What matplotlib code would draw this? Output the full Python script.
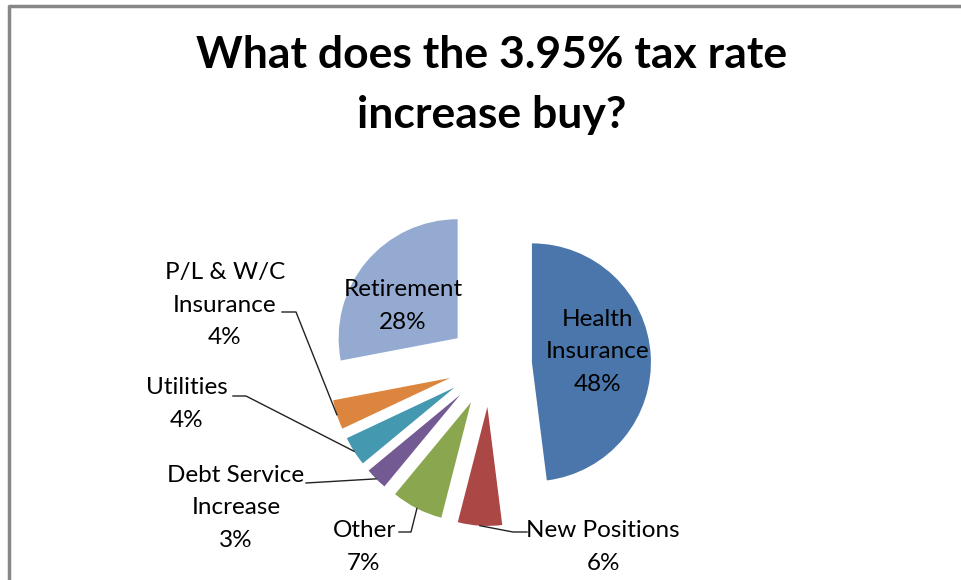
import numpy as np
import matplotlib.pyplot as plt

# slice data, clockwise from 12 o'clock
categories = ["Health\nInsurance", "New Positions", "Other", "Debt Service\nIncrease",
              "Utilities", "P/L & W/C\nInsurance", "Retirement"]
shares = [48, 6, 7, 3, 4, 4, 28]
colors = ["#4a76ab", "#ab4745", "#8aa64f", "#735a93", "#4498b0", "#dc853e", "#94aad1"]

W, H = 961, 580
plt.rcParams['font.family'] = ['Lato', 'DejaVu Sans']

fig = plt.figure(figsize=(W / 100, H / 100), dpi=100)
ax = fig.add_axes([0, 0, 1, 1])

radius = 119
center = (490, H - 365)
# explode is in data units here, every slice pulled out the same distance
wedges, _ = ax.pie(shares, radius=radius, center=center, startangle=90,
                   counterclock=False, explode=[42] * len(shares),
                   colors=colors, wedgeprops=dict(linewidth=0))
ax.set_xlim(0, W)
ax.set_ylim(0, H)
ax.axis('off')

# chart frame (top and left edges show)
ax.plot([9, 9, W + 5], [-5, H - 6, H - 6], color='#878787', lw=2.5, solid_capstyle='butt')

ax.text(492, H - 85, "What does the 3.95% tax rate\nincrease buy?", ha='center', va='center',
        fontsize=32, fontweight='bold', linespacing=1.6)


def outer_mid(w):
    # point on the outer arc halfway through a wedge
    ang = np.deg2rad((w.theta1 + w.theta2) / 2)
    cx, cy = w.center
    return cx + w.r * np.cos(ang), cy + w.r * np.sin(ang)


lbl_size = 17.5
lbl_ls = 1.65
# labels inside the two large wedges
inside = {0: (598, 352), 6: (403, 306)}
for i, (x, y) in inside.items():
    ax.text(x, H - y, f"{categories[i]}\n{shares[i]}%", ha='center', va='center',
            fontsize=lbl_size, linespacing=lbl_ls)

# outside labels: text centre, end of leader at the text, elbow
outside = {
    1: ((603, 547), (527, 532), (513, 532)),
    2: ((364, 547), (399, 532), (411, 532)),
    3: ((236, 508), (306, 483), (306, 483)),
    4: ((187, 404), (233, 396), (246, 396)),
    5: ((225, 305), (282, 312), (296, 312)),
}
for i, (txt, start, elbow) in outside.items():
    ax.text(txt[0], H - txt[1], f"{categories[i]}\n{shares[i]}%", ha='center', va='center',
            fontsize=lbl_size, linespacing=lbl_ls)
    ex, ey = outer_mid(wedges[i])
    ax.plot([start[0], elbow[0], ex], [H - start[1], H - elbow[1], ey],
            color='#222222', lw=1)

fig.savefig("out.png", dpi=100)
